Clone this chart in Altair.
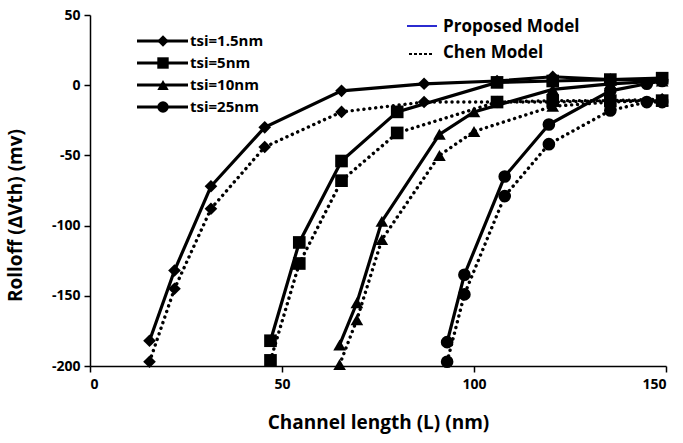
import altair as alt
import pandas as pd

FONT = "Open Sans, Lato, sans-serif"

# ---- data ----
series_names = ["tsi=1.5nm", "tsi=5nm", "tsi=10nm", "tsi=25nm"]

L_15 = [15.5, 22, 31.5, 45.5, 65.5, 87, 106, 120.5, 135.5, 149]
prop_15 = [-182, -132, -72, -30, -4, 1, 3, 6, 4, 4]
chen_15 = [-197, -145, -88, -44, -19, -12, -12, -12, -11, -10]

L_5 = [47, 54.5, 65.5, 80, 106, 120.5, 135.5, 149]
prop_5 = [-182, -112, -54, -19, 2, 3, 4, 5]
chen_5 = [-196, -127, -68, -34, -12, -11, -11, -11]

L_10 = [65, 69.5, 76, 91, 100, 120.5, 135.5, 149]
prop_10 = [-185, -155, -97, -35, -19, -3, 1, 3]
chen_10 = [-199, -167, -110, -50, -33, -15, -12, -11]

L_25 = [93, 97.5, 108, 119.5, 135.5, 145, 149]
prop_25 = [-183, -135, -65, -28, -4, 1, 3]
chen_25 = [-197, -149, -79, -42, -18, -12, -12]

x_ticks = [0, 50, 100, 150]
y_ticks = [-200, -150, -100, -50, 0, 50]

rows = []
for name, L, p, c in [
    ("tsi=1.5nm", L_15, prop_15, chen_15),
    ("tsi=5nm", L_5, prop_5, chen_5),
    ("tsi=10nm", L_10, prop_10, chen_10),
    ("tsi=25nm", L_25, prop_25, chen_25),
]:
    for xv, yv in zip(L, p):
        rows.append({"L": xv, "V": yv, "series": name, "model": "Proposed"})
    for xv, yv in zip(L, c):
        rows.append({"L": xv, "V": yv, "series": name, "model": "Chen"})
df = pd.DataFrame(rows)

W, H = 576, 351

xs = alt.Scale(domain=[0, 150], nice=False)
ys = alt.Scale(domain=[-200, 50], nice=False)
shape_scale = alt.Scale(domain=series_names,
                        range=["diamond", "square", "triangle-up", "circle"])

hyphen = "datum.value < 0 ? '-' + abs(datum.value) : '' + datum.value"

x_enc = alt.X("L:Q", scale=xs, axis=alt.Axis(
    values=x_ticks, title="Channel length (L) (nm)", grid=False,
    domainColor="black", domainWidth=1.5, tickColor="black", tickWidth=1.5,
    tickSize=6, labelFont=FONT, labelFontSize=14, labelFontWeight="bold",
    labelColor="black", labelPadding=5, titleFont=FONT, titleFontSize=19,
    titleFontWeight="bold", titleColor="black", titleX=288, titleY=47,
    titleBaseline="top"))
y_enc = alt.Y("V:Q", scale=ys, axis=alt.Axis(
    values=y_ticks, title="Rolloff (\u2206Vth)  (mv)", grid=False,
    domainColor="black", domainWidth=1.5, tickColor="black", tickWidth=1.5,
    tickSize=6, labelFont=FONT, labelFontSize=14, labelFontWeight="bold",
    labelColor="black", labelPadding=4, labelExpr=hyphen,
    titleFont=FONT, titleFontSize=19,
    titleFontWeight="bold", titleColor="black", titleX=-65, titleY=200,
    titleAngle=-90, titleBaseline="bottom"))

base = alt.Chart(df)

prop_line = base.transform_filter(alt.datum.model == "Proposed").mark_line(
    color="black", strokeWidth=3.2).encode(x=x_enc, y=y_enc, detail="series:N")
chen_line = base.transform_filter(alt.datum.model == "Chen").mark_line(
    color="black", strokeWidth=3.4, strokeDash=[0.1, 5.8], strokeCap="round").encode(
    x=x_enc, y=y_enc, detail="series:N")
pts = base.mark_point(filled=True, color="black", opacity=1, size=160).encode(
    x=x_enc, y=y_enc,
    shape=alt.Shape("series:N", scale=shape_scale, legend=None))

layers = [prop_line, chen_line, pts]

# ---- left legend (series) ----
leg_y = [41, 63, 85, 107]
leg_shapes = ["diamond", "square", "triangle-up", "circle"]
for name, yy, shp in zip(series_names, leg_y, leg_shapes):
    ly = yy - 15
    d = pd.DataFrame({"t": [name]})
    layers.append(alt.Chart(d).mark_rule(color="black", strokeWidth=3.2).encode(
        x=alt.value(137 - 90), x2=alt.value(188 - 90), y=alt.value(ly)))
    layers.append(alt.Chart(d).mark_point(filled=True, color="black", opacity=1,
                                          size=130, shape=shp).encode(
        x=alt.value(163 - 90), y=alt.value(ly)))
    layers.append(alt.Chart(d).mark_text(align="left", baseline="middle",
                                         font=FONT, fontSize=15, fontWeight="bold",
                                         color="black").encode(
        x=alt.value(190 - 90), y=alt.value(ly), text="t:N"))

# ---- right legend (models) ----
model_labels = ["Proposed Model", "Chen Model"]
d1 = pd.DataFrame({"t": [model_labels[0]]})
d2 = pd.DataFrame({"t": [model_labels[1]]})
layers.append(alt.Chart(d1).mark_rule(color="#2b2bd0", strokeWidth=2).encode(
    x=alt.value(407 - 90), x2=alt.value(437 - 90), y=alt.value(26 - 15)))
layers.append(alt.Chart(d1).mark_text(align="left", baseline="middle", font=FONT,
                                      fontSize=17, fontWeight="bold", color="black").encode(
    x=alt.value(443 - 90), y=alt.value(27 - 15), text="t:N"))
layers.append(alt.Chart(d2).mark_rule(color="black", strokeWidth=2,
                                      strokeDash=[3, 2]).encode(
    x=alt.value(409 - 90), x2=alt.value(433 - 90), y=alt.value(54 - 15)))
layers.append(alt.Chart(d2).mark_text(align="left", baseline="middle", font=FONT,
                                      fontSize=17, fontWeight="bold", color="black").encode(
    x=alt.value(443 - 90), y=alt.value(53 - 15), text="t:N"))

chart = alt.layer(*layers).properties(
    width=W, height=H,
    autosize=alt.AutoSizeParams(type="none"),
    padding={"left": 90, "top": 15, "right": 17, "bottom": 77},
    background="white",
).configure_view(stroke=None)

chart.save("out.html", embed_options={"renderer": "svg", "actions": False})
